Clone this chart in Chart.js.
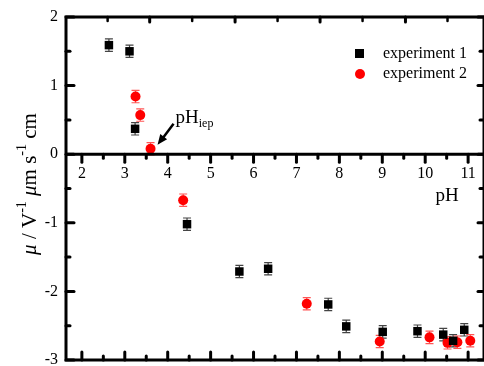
<!DOCTYPE html>
<html>
<head>
<meta charset="utf-8">
<script src="https://cdn.jsdelivr.net/npm/chart.js@4/dist/chart.umd.min.js"></script>
<style>
  html, body { margin: 0; padding: 0; background: #fff; overflow: hidden; width: 484px; height: 366px; }
  canvas { display: block; }
</style>
</head>
<body>
<canvas id="c" width="490" height="366" style="width:490px;height:366px"></canvas>
<script>
// Electrophoretic mobility vs pH, two experiments
const ph1  = [2.63, 3.11, 3.24, 4.45, 5.67, 6.34, 7.74, 8.16, 9.01, 9.82, 10.42, 10.65, 10.91];
const mu1  = [1.59, 1.50, 0.37, -1.02, -1.71, -1.67, -2.19, -2.51, -2.59, -2.58, -2.63, -2.72, -2.56];
const err1 = [0.09, 0.09, 0.09, 0.09, 0.09, 0.09, 0.09, 0.09, 0.09, 0.09, 0.09, 0.09, 0.09];

const ph2  = [3.25, 3.36, 3.60, 4.36, 7.24, 8.94, 10.10, 10.52, 10.75, 11.05];
const mu2  = [0.84, 0.57, 0.08, -0.67, -2.18, -2.73, -2.67, -2.75, -2.74, -2.72];
const err2 = [0.09, 0.09, 0.09, 0.09, 0.09, 0.09, 0.09, 0.09, 0.09, 0.09];

const xTicks = [2, 3, 4, 5, 6, 7, 8, 9, 10, 11];
const xMinor = [2.5, 3.5, 4.5, 5.5, 6.5, 7.5, 8.5, 9.5, 10.5];
const yTicks = [-3, -2, -1, 0, 1, 2];
const yMinor = [-2.5, -1.5, -0.5, 0.5, 1.5];
const topMajor = [3.58, 5.57, 7.55, 9.54];
const topMinor = [2.60, 4.57, 6.56, 8.54, 10.52];

const seriesNames = ['experiment 1', 'experiment 2'];
const iepIndex = 2; // point of series 2 marked as the isoelectric point

const SERIF = '"Liberation Serif", "Times New Roman", serif';

function pts(xs, ys) { return xs.map((x, i) => ({ x: x, y: ys[i] })); }

const errorBars = {
  id: 'errorBars',
  beforeDatasetsDraw(chart) {
    const ctx = chart.ctx, xs = chart.scales.x, ys = chart.scales.y;
    chart.data.datasets.forEach(ds => {
      ctx.save();
      ctx.strokeStyle = ds.errColor;
      ctx.lineWidth = 1.2;
      ds.data.forEach((p, i) => {
        const e = ds.errors[i];
        const px = xs.getPixelForValue(p.x);
        const y1 = ys.getPixelForValue(p.y + e), y2 = ys.getPixelForValue(p.y - e);
        ctx.beginPath();
        ctx.moveTo(px, y1); ctx.lineTo(px, y2);
        ctx.moveTo(px - 4, y1); ctx.lineTo(px + 4, y1);
        ctx.moveTo(px - 4, y2); ctx.lineTo(px + 4, y2);
        ctx.stroke();
      });
      ctx.restore();
    });
  }
};

const frame = {
  id: 'frame',
  afterDraw(chart) {
    const ctx = chart.ctx, a = chart.chartArea, xs = chart.scales.x, ys = chart.scales.y;
    const y0 = ys.getPixelForValue(0);
    ctx.save();
    ctx.strokeStyle = '#000';
    ctx.fillStyle = '#000';
    ctx.lineCap = 'round';

    // ticks
    function tick(x1, y1, x2, y2, w) {
      ctx.lineWidth = w;
      ctx.beginPath(); ctx.moveTo(x1, y1); ctx.lineTo(x2, y2); ctx.stroke();
    }
    xTicks.forEach(v => {
      const px = xs.getPixelForValue(v);
      tick(px, y0, px, y0 + 8, 3);          // zero line, pointing down
      tick(px, a.bottom, px, a.bottom - 8, 3); // bottom, pointing up
    });
    xMinor.forEach(v => {
      const px = xs.getPixelForValue(v);
      tick(px, y0, px, y0 + 4, 3);
      tick(px, a.bottom, px, a.bottom - 4, 3);
    });
    topMajor.forEach(v => { const px = xs.getPixelForValue(v); tick(px, a.top, px, a.top + 5, 3); });
    topMinor.forEach(v => { const px = xs.getPixelForValue(v); tick(px, a.top, px, a.top + 4, 2.5); });
    yTicks.forEach(v => {
      const py = ys.getPixelForValue(v);
      tick(a.left, py, a.left + 8, py, 3);
      tick(a.right, py, a.right - 6, py, 3);
    });
    yMinor.forEach(v => {
      const py = ys.getPixelForValue(v);
      tick(a.left, py, a.left + 4, py, 3);
      tick(a.right, py, a.right - 4, py, 3);
    });

    // frame and zero line
    ctx.lineCap = 'butt';
    ctx.lineWidth = 3;
    ctx.strokeRect(a.left, a.top, a.right - a.left, a.bottom - a.top);
    ctx.beginPath(); ctx.moveTo(a.left, y0); ctx.lineTo(a.right, y0); ctx.stroke();

    // tick labels
    ctx.font = '16px ' + SERIF;
    ctx.textAlign = 'center'; ctx.textBaseline = 'middle';
    xTicks.forEach(v => ctx.fillText(String(v), xs.getPixelForValue(v), y0 + 20));
    ctx.textAlign = 'right';
    yTicks.forEach(v => ctx.fillText(String(v), a.left - 8, ys.getPixelForValue(v)));

    // x title
    ctx.font = '19px ' + SERIF;
    ctx.textAlign = 'center';
    ctx.fillText('pH', 447, y0 + 42);

    // y title (rotated)
    ctx.save();
    ctx.translate(30, 184);
    ctx.rotate(-Math.PI / 2);
    const parts = [
      ['italic 21px ' + SERIF, '\u03BC', 0],
      ['21px ' + SERIF, ' / V', 0],
      ['14px ' + SERIF, '-1', -8],
      ['21px ' + SERIF, ' ', 0],
      ['italic 21px ' + SERIF, '\u03BC', 0],
      ['21px ' + SERIF, 'm s', 0],
      ['14px ' + SERIF, '-1', -8],
      ['21px ' + SERIF, ' cm', 0]
    ];
    let total = 0;
    parts.forEach(p => { ctx.font = p[0]; total += ctx.measureText(p[1]).width; });
    let cx = -total / 2;
    ctx.textAlign = 'left'; ctx.textBaseline = 'middle';
    parts.forEach(p => { ctx.font = p[0]; ctx.fillText(p[1], cx, p[2]); cx += ctx.measureText(p[1]).width; });
    ctx.restore();

    // isoelectric point annotation
    const ds2 = chart.data.datasets[1].data[iepIndex];
    const ix = xs.getPixelForValue(ds2.x), iy = ys.getPixelForValue(ds2.y);
    const hx = ix + 7, hy = iy - 4, tx = ix + 23, ty = iy - 25;
    ctx.lineWidth = 2.5;
    ctx.beginPath(); ctx.moveTo(tx, ty); ctx.lineTo(hx + 4, hy - 5); ctx.stroke();
    const ang = Math.atan2(hy - ty, hx - tx);
    ctx.beginPath();
    ctx.moveTo(hx, hy);
    ctx.lineTo(hx - 11 * Math.cos(ang - 0.4), hy - 11 * Math.sin(ang - 0.4));
    ctx.lineTo(hx - 11 * Math.cos(ang + 0.4), hy - 11 * Math.sin(ang + 0.4));
    ctx.closePath(); ctx.fill();
    ctx.font = '19px ' + SERIF;
    ctx.textAlign = 'left'; ctx.textBaseline = 'alphabetic';
    ctx.fillText('pH', tx + 2, ty - 1);
    const w = ctx.measureText('pH').width;
    ctx.font = '12px ' + SERIF;
    ctx.fillText('iep', tx + 2 + w, ty + 3);

    // legend
    ctx.font = '16px ' + SERIF;
    ctx.textBaseline = 'middle';
    ctx.fillRect(355, 49, 9, 9);
    ctx.fillText(seriesNames[0], 383, 54);
    ctx.fillStyle = '#ff0000';
    ctx.beginPath(); ctx.arc(360, 74, 5, 0, Math.PI * 2); ctx.fill();
    ctx.fillStyle = '#000';
    ctx.fillText(seriesNames[1], 383, 74);

    ctx.restore();
  }
};

new Chart(document.getElementById('c'), {
  type: 'scatter',
  data: {
    datasets: [
      {
        label: seriesNames[0],
        data: pts(ph1, mu1),
        errors: err1,
        errColor: '#444',
        pointStyle: 'rect',
        pointRadius: 6,
        backgroundColor: '#000',
        borderColor: '#000',
        borderWidth: 0
      },
      {
        label: seriesNames[1],
        data: pts(ph2, mu2),
        errors: err2,
        errColor: '#ff5555',
        pointStyle: 'circle',
        pointRadius: 5,
        backgroundColor: '#ff0000',
        borderColor: '#ff0000',
        borderWidth: 0
      }
    ]
  },
  options: {
    responsive: false,
    animation: false,
    events: [],
    layout: { padding: { left: 66, right: 4, top: 17, bottom: 5 } },
    plugins: { legend: { display: false }, tooltip: { enabled: false } },
    scales: {
      x: { type: 'linear', display: false, min: 1.63, max: 11.37 },
      y: { type: 'linear', display: false, min: -3, max: 2 }
    }
  },
  plugins: [errorBars, frame]
});
</script>
</body>
</html>
